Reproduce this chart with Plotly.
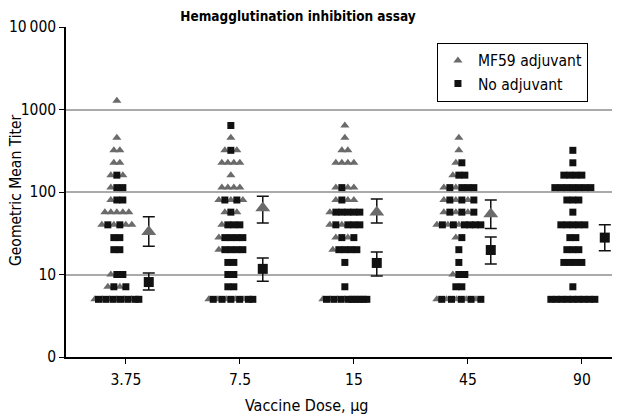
import math
import plotly.graph_objects as go

# ---------------- data ----------------
doses = ["3.75", "7.5", "15", "45", "90"]

# individual titers (MF59 adjuvant = triangles)
mf59_titers = [
    [1280, 453, 320, 320, 226, 226, 160, 160, 113, 80, 57, 57, 57, 57, 57,
     40, 40, 40, 40, 10, 7.1, 7.1, 5, 5, 5, 5, 5, 5],
    [453, 320, 320, 226, 226, 226, 226, 160, 113, 113, 113, 113, 80, 80, 80,
     57, 57, 40, 28, 20, 5, 5, 5, 5, 5],
    [640, 453, 320, 320, 226, 226, 226, 226, 113, 113, 113, 80, 80, 80, 57,
     40, 40, 28, 28, 20, 5, 5, 5, 5],
    [453, 320, 226, 160, 113, 113, 80, 80, 80, 57, 57, 57, 40, 40, 40, 28,
     10, 5, 5, 5, 5, 5],
    [],
]
# individual titers (No adjuvant = squares)
noadj_titers = [
    [160, 113, 113, 80, 80, 40, 40, 28, 28, 20, 20, 10, 10, 7.1, 7.1,
     5, 5, 5, 5, 5, 5, 5],
    [640, 320, 80, 80, 57, 40, 40, 40, 28, 28, 28, 28, 20, 20, 20, 20,
     14, 14, 10, 10, 7.1, 7.1, 5, 5, 5, 5, 5, 5],
    [113, 80, 57, 57, 57, 57, 57, 40, 40, 40, 40, 28, 28, 20, 20, 20, 20,
     14, 7.1, 5, 5, 5, 5, 5, 5, 5, 5, 5],
    [226, 160, 160, 113, 113, 113, 113, 80, 80, 80, 57, 57, 57, 40, 40, 40,
     40, 40, 40, 28, 20, 14, 10, 10, 7.1, 7.1, 5, 5, 5, 5, 5],
    [320, 226, 160, 160, 160, 160, 113, 113, 113, 113, 113, 113, 113, 80, 80,
     80, 57, 40, 40, 40, 40, 40, 28, 28, 20, 20, 20, 14, 14, 14, 14, 7.1,
     5, 5, 5, 5, 5, 5, 5, 5, 5],
]

# geometric means with 95% CI
mf59_gmt = [33, 64, 57, 54, None]
mf59_lo = [22, 42, 42, 36, None]
mf59_hi = [50, 89, 82, 80, None]
noadj_gmt = [8.1, 11.7, 13.8, 19.8, 28]
noadj_lo = [6.5, 8.3, 9.6, 13.4, 19.4]
noadj_hi = [10.4, 15.8, 18.7, 28.5, 40]

ytick_vals = [1, 10, 100, 1000, 10000]
ytick_text = ["0", "10", "100", "1000", "10\u2009000"]

# ---------------- layout helpers ----------------
W, H = 612, 409
ML, MR, MT, MB = 58, 2, 19, 60
PX_PER_UNIT = 114.0
SCATTER_SHIFT = -0.08
MEAN_SHIFT = 0.2
STEP = 6.0 / PX_PER_UNIT
MAX_W = 44.0 / PX_PER_UNIT

tri_x, tri_y, sq_x, sq_y = [], [], [], []
for gi in range(len(doses)):
    levels = {}
    for v in mf59_titers[gi]:
        levels.setdefault(round(math.log10(v), 2), [[], []])[0].append(v)
    for v in noadj_titers[gi]:
        levels.setdefault(round(math.log10(v), 2), [[], []])[1].append(v)
    for key, (tl, sl) in levels.items():
        order = []
        a, b = list(tl), list(sl)
        while a or b:
            if a:
                order.append(("t", a.pop()))
            if b:
                order.append(("s", b.pop()))
        n = len(order)
        step = STEP if n < 2 else min(STEP, MAX_W / (n - 1))
        for k, (kind, v) in enumerate(order):
            x = gi + SCATTER_SHIFT + (k - (n - 1) / 2.0) * step
            if kind == "t":
                tri_x.append(x); tri_y.append(v)
            else:
                sq_x.append(x); sq_y.append(v)

FONT = "DejaVu Sans Condensed, Liberation Sans Narrow, sans-serif"
GRAY = "#6b6b6b"

fig = go.Figure()
fig.add_trace(go.Scatter(
    x=tri_x, y=tri_y, mode="markers", name="MF59 adjuvant",
    marker=dict(symbol="triangle-up", size=8, color=GRAY, line=dict(width=0)),
))
fig.add_trace(go.Scatter(
    x=sq_x, y=sq_y, mode="markers", name="No adjuvant",
    marker=dict(symbol="square", size=7, color="#111111", line=dict(width=0)),
))

mx = [i + MEAN_SHIFT for i in range(len(doses)) if mf59_gmt[i] is not None]
my = [v for v in mf59_gmt if v is not None]
mup = [mf59_hi[i] - mf59_gmt[i] for i in range(len(doses)) if mf59_gmt[i] is not None]
mdn = [mf59_gmt[i] - mf59_lo[i] for i in range(len(doses)) if mf59_gmt[i] is not None]
fig.add_trace(go.Scatter(
    x=mx, y=my, mode="markers", showlegend=False,
    marker=dict(symbol="triangle-up", size=13, color=GRAY),
    error_y=dict(type="data", symmetric=False, array=mup, arrayminus=mdn,
                 color="#111111", thickness=1.5, width=6),
))
nx = [i + MEAN_SHIFT for i in range(len(doses))]
nup = [noadj_hi[i] - noadj_gmt[i] for i in range(len(doses))]
ndn = [noadj_gmt[i] - noadj_lo[i] for i in range(len(doses))]
fig.add_trace(go.Scatter(
    x=nx, y=noadj_gmt, mode="markers", showlegend=False,
    marker=dict(symbol="square", size=10, color="#111111"),
    error_y=dict(type="data", symmetric=False, array=nup, arrayminus=ndn,
                 color="#111111", thickness=1.5, width=6),
))

plot_w = W - ML - MR
plot_h = H - MT - MB

fig.update_layout(
    width=W, height=H,
    margin=dict(l=ML, r=MR, t=MT, b=MB, autoexpand=False),
    paper_bgcolor="white", plot_bgcolor="white",
    font=dict(family=FONT, size=15.5, color="black"),
    title=dict(text="<b>Hemagglutination inhibition assay</b>",
               x=290 / W, xanchor="center",
               y=1 - 8 / H, yanchor="middle", font=dict(size=13.5)),
    legend=dict(x=0.672, y=0.952, xanchor="left", yanchor="top",
                bordercolor="black", borderwidth=1, bgcolor="white",
                font=dict(size=15.5), tracegroupgap=0),
    xaxis=dict(range=[-0.526, 4.316], tickmode="array",
               tickvals=list(range(len(doses))), ticktext=doses,
               showline=True, linecolor="black", linewidth=1.5,
               ticks="outside", ticklen=5, tickcolor="black",
               ticklabelstandoff=3, automargin=False,
               showgrid=False, zeroline=False),
    yaxis=dict(type="log", range=[0, 4], tickmode="array",
               tickvals=ytick_vals, ticktext=ytick_text,
               showline=True, linecolor="black", linewidth=1.5,
               ticks="outside", ticklen=5, tickcolor="black",
               automargin=False,
               showgrid=True, gridcolor="#aaaaaa", gridwidth=1.5,
               zeroline=False),
    annotations=[
        dict(text="Geometric Mean Titer", xref="paper", yref="paper",
             x=(8 - ML) / plot_w, y=0.506, xanchor="center", yanchor="middle",
             textangle=-90, showarrow=False, font=dict(size=15.5)),
        dict(text="Vaccine Dose, μg", xref="paper", yref="paper",
             x=(299 - ML) / plot_w, y=(plot_h - (397 - MT)) / plot_h,
             xanchor="center", yanchor="middle",
             showarrow=False, font=dict(size=16)),
    ],
)

fig.write_html("out.html")
